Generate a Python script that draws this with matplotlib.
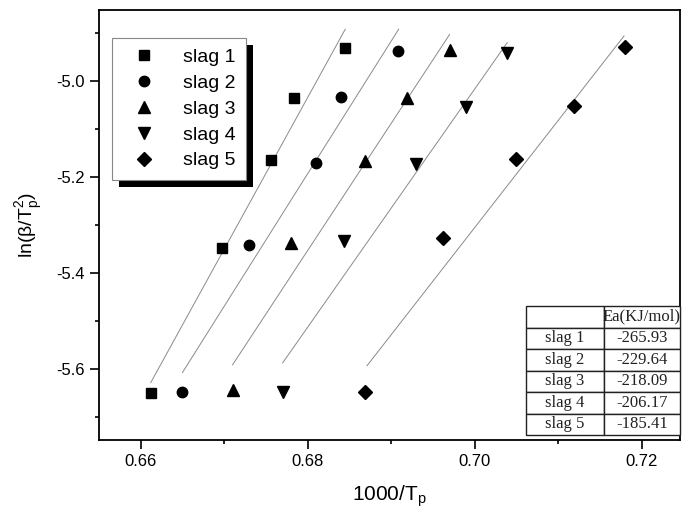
import matplotlib
matplotlib.use('Agg')
import matplotlib.pyplot as plt
from matplotlib.patches import Rectangle
from matplotlib.ticker import MultipleLocator

plt.rcParams['font.family'] = ['Liberation Sans', 'DejaVu Sans']

# data
labels = ['slag 1', 'slag 2', 'slag 3', 'slag 4', 'slag 5']
markers = ['s', 'o', '^', 'v', 'D']
msizes = [6.5, 7.5, 8.5, 8.5, 7]

x_slag1 = [0.6612, 0.6697, 0.6756, 0.6784, 0.6845]
y_slag1 = [-5.651, -5.348, -5.165, -5.037, -4.933]
x_slag2 = [0.6650, 0.6730, 0.6810, 0.6840, 0.6908]
y_slag2 = [-5.649, -5.342, -5.172, -5.035, -4.938]
x_slag3 = [0.6710, 0.6780, 0.6869, 0.6919, 0.6970]
y_slag3 = [-5.644, -5.339, -5.167, -5.037, -4.936]
x_slag4 = [0.6770, 0.6843, 0.6930, 0.6990, 0.7039]
y_slag4 = [-5.648, -5.335, -5.174, -5.055, -4.942]
x_slag5 = [0.6869, 0.6962, 0.7049, 0.7119, 0.7180]
y_slag5 = [-5.649, -5.328, -5.163, -5.053, -4.931]

xs = [x_slag1, x_slag2, x_slag3, x_slag4, x_slag5]
ys = [y_slag1, y_slag2, y_slag3, y_slag4, y_slag5]

# fit lines (start / end)
line_x0 = [0.6612, 0.6650, 0.6710, 0.6770, 0.6871]
line_x1 = [0.6845, 0.6909, 0.6970, 0.7039, 0.7179]
line_y0 = [-5.629, -5.608, -5.592, -5.588, -5.594]
line_y1 = [-4.893, -4.893, -4.904, -4.921, -4.907]

ea_values = ['-265.93', '-229.64', '-218.09', '-206.17', '-185.41']

fig = plt.figure(figsize=(6.85, 5.18), dpi=100)
ax = fig.add_axes([0.1445, 0.1506, 0.8482, 0.8301])

for i in range(5):
    ax.plot([line_x0[i], line_x1[i]], [line_y0[i], line_y1[i]], color='#8a8a8a', lw=0.7, zorder=2)
    ax.plot(xs[i], ys[i], linestyle='none', marker=markers[i], ms=msizes[i],
            color='black', label=labels[i], zorder=3)

ax.set_xlim(0.655, 0.7246)
ax.set_ylim(-5.7485, -4.853)
ax.xaxis.set_major_locator(MultipleLocator(0.02))
ax.xaxis.set_minor_locator(MultipleLocator(0.01))
ax.yaxis.set_major_locator(MultipleLocator(0.2))
ax.yaxis.set_minor_locator(MultipleLocator(0.1))
ax.xaxis.set_major_formatter(plt.FormatStrFormatter('%.2f'))
ax.yaxis.set_major_formatter(plt.FormatStrFormatter('%.1f'))
ax.tick_params(which='both', direction='out', top=False, right=False, width=1.2, labelsize=12)
ax.tick_params(which='major', length=6.5)
ax.tick_params(which='minor', length=3)
for s in ax.spines.values():
    s.set_linewidth(1.3)

ax.set_xlabel('1000/T$_\\mathregular{p}$', fontsize=15, labelpad=10)
ax.set_ylabel('ln(\u03b2/T$_\\mathregular{p}^\\mathregular{2}$)', fontsize=14, labelpad=8)

leg = ax.legend(loc='upper left', bbox_to_anchor=(0.022, 0.935), borderaxespad=0,
                fancybox=False, edgecolor='#888888', framealpha=1, fontsize=14,
                handletextpad=0.9, labelspacing=0.42, borderpad=0.55, handlelength=2.2)
leg.get_frame().set_linewidth(0.8)

# black drop shadow behind the legend
fig.canvas.draw()
bb = leg.get_window_extent()
shadow = Rectangle((bb.x0 + 7, bb.y0 - 7), bb.width, bb.height, transform=None,
                   facecolor='black', edgecolor='none', zorder=4)
ax.add_artist(shadow)
leg.set_zorder(6)

# Ea table
cells = [['', 'Ea(KJ/mol)']] + [[labels[i], ea_values[i]] for i in range(5)]
tab = ax.table(cellText=cells, cellLoc='center', bbox=[0.735, 0.0116, 0.265, 0.30],
               colWidths=[0.505, 0.495], zorder=5)
tab.auto_set_font_size(False)
for (r, c), cell in tab.get_celld().items():
    cell.set_linewidth(1.0)
    cell.set_edgecolor('#222222')
    cell.PAD = 0.02
    cell.get_text().set_fontfamily('Liberation Serif')
    cell.get_text().set_fontsize(12)
    cell.get_text().set_color('#222222')

fig.savefig('out.png', dpi=100)
